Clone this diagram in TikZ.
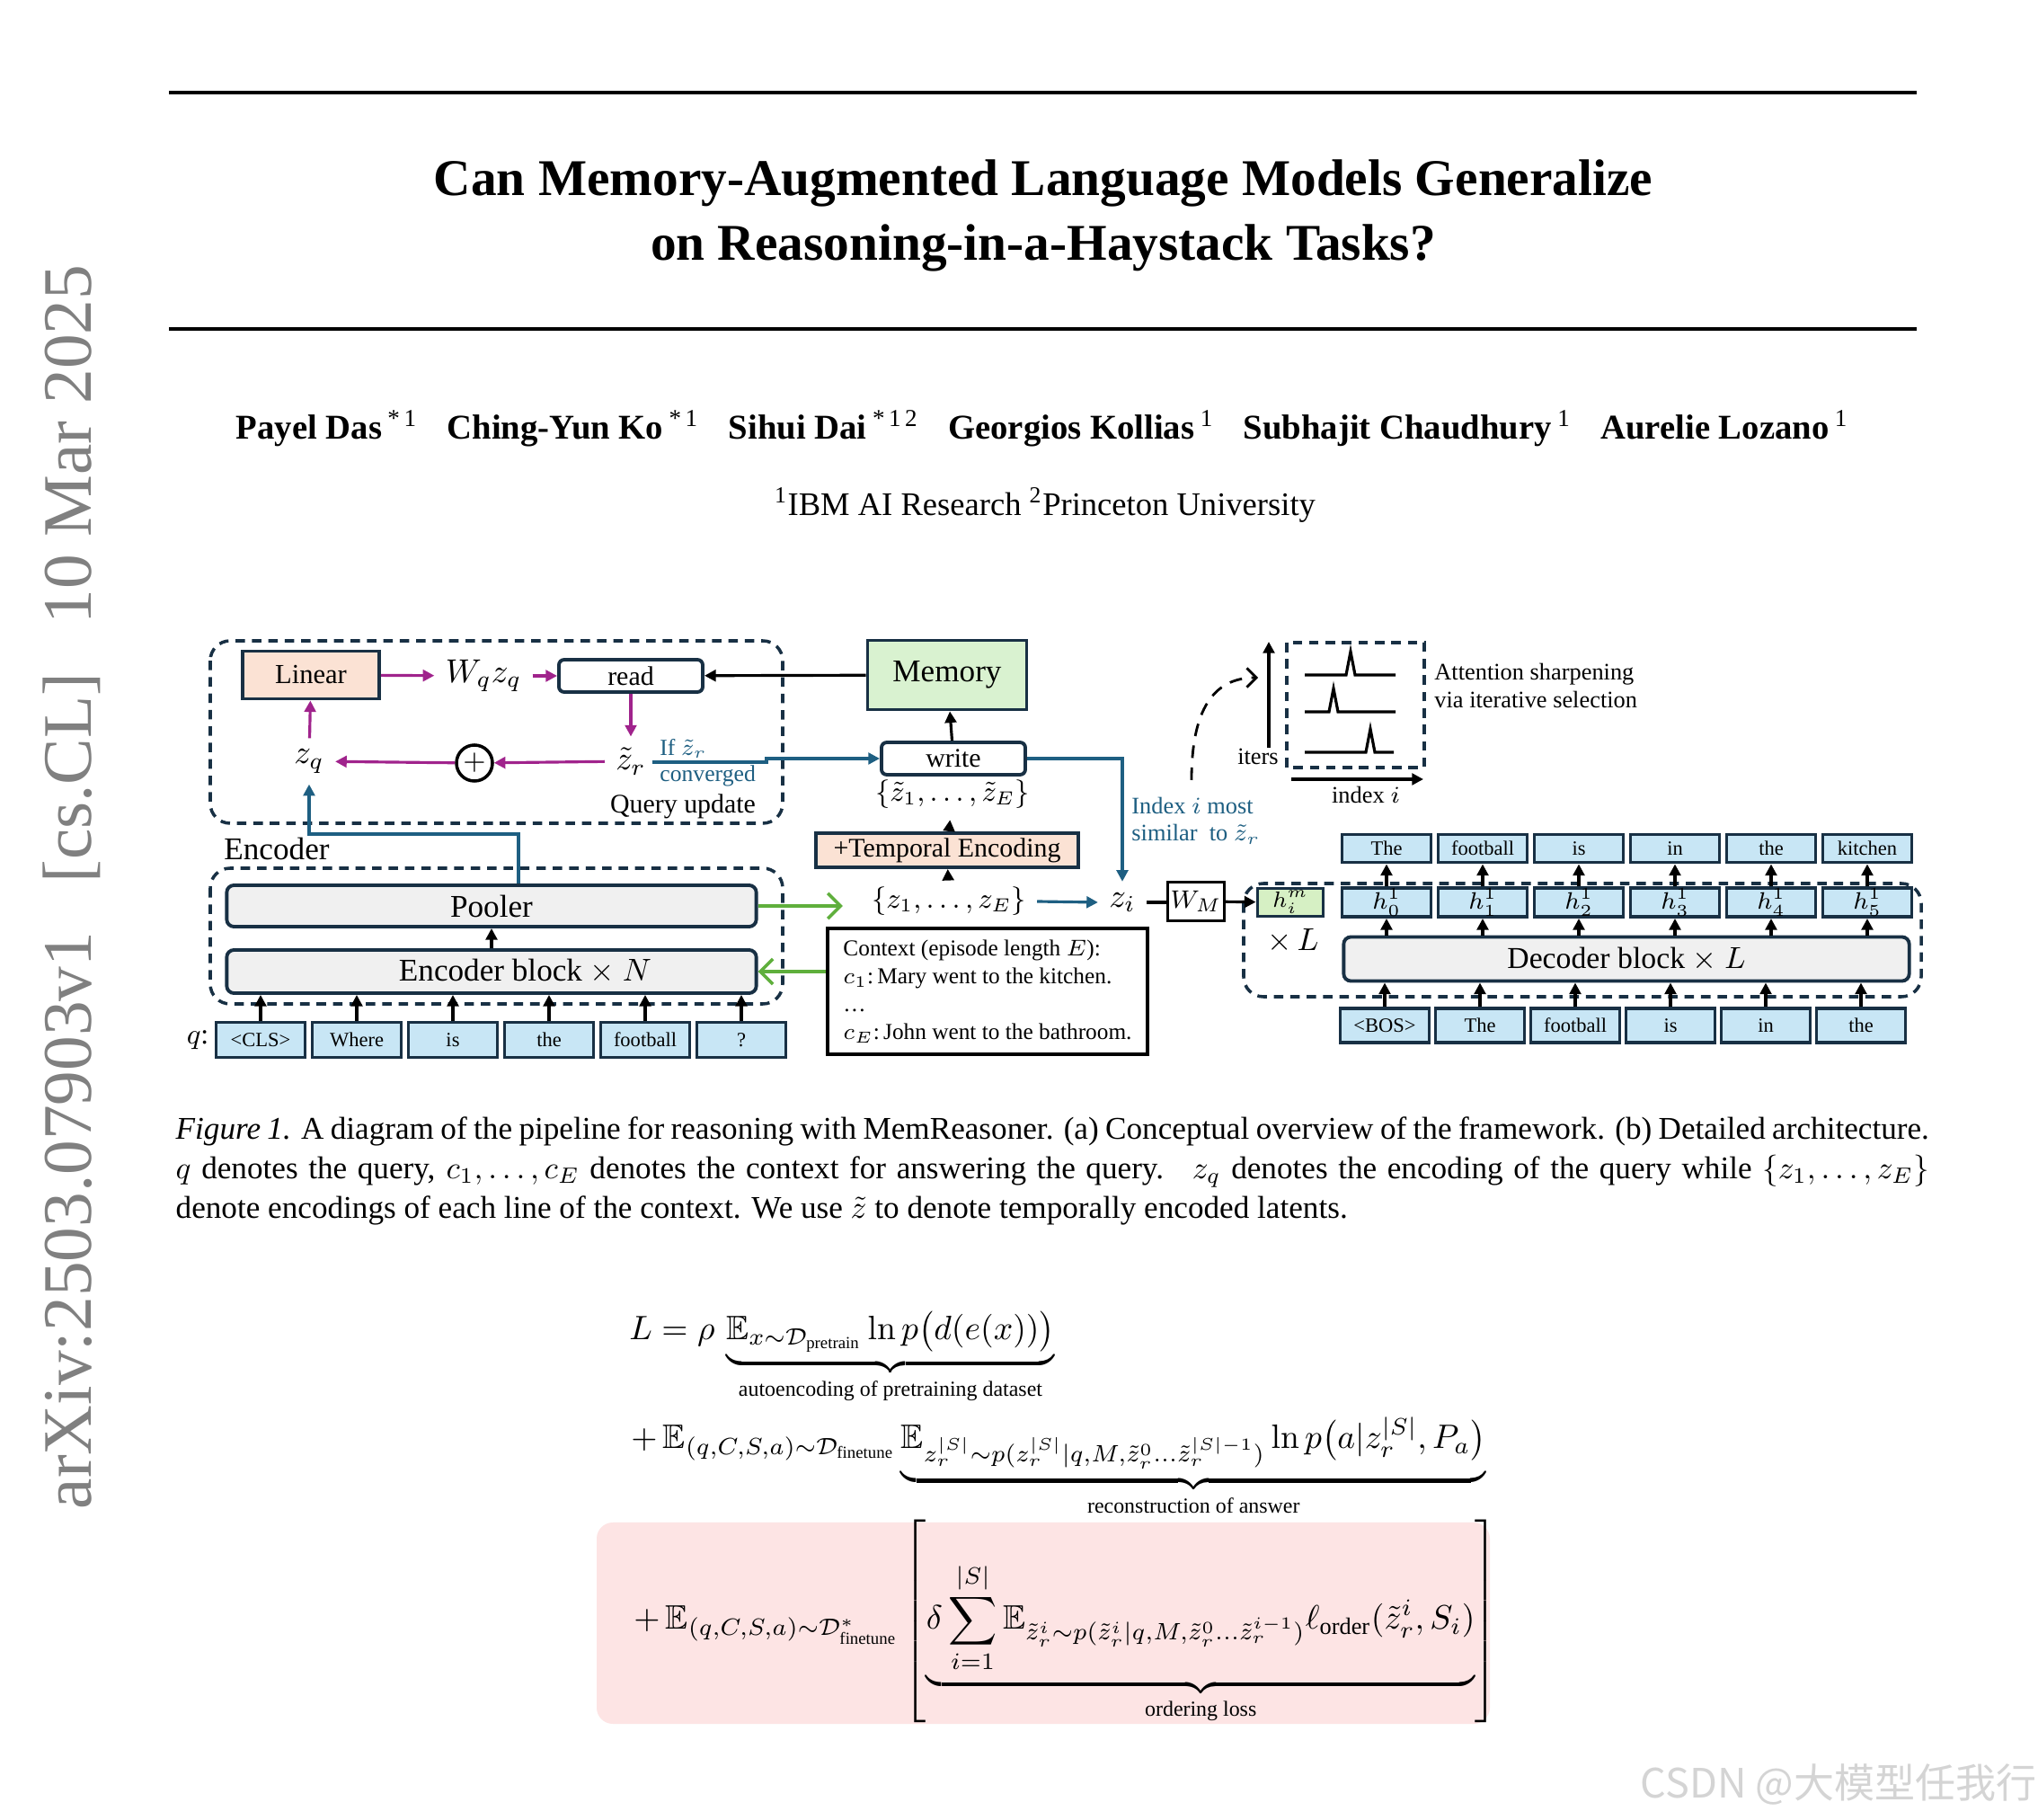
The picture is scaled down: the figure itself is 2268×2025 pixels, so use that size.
\RequirePackage{fix-cm}
\documentclass[tikz,border=0pt]{standalone}
\usepackage{amsmath,amssymb}
\usepackage[no-math]{fontspec}
\setmainfont{Liberation Serif}
\newfontfamily\wmfont{Noto Sans CJK SC}
\usetikzlibrary{arrows.meta,positioning,calc}

\definecolor{navy}{RGB}{24,48,68}
\definecolor{magline}{RGB}{160,35,140}
\definecolor{blueline}{RGB}{30,95,130}
\definecolor{grnline}{RGB}{95,175,60}
\definecolor{tokfill}{RGB}{200,230,245}
\definecolor{peach}{RGB}{251,226,212}
\definecolor{memgreen}{RGB}{217,242,208}
\definecolor{himgreen}{RGB}{214,240,196}
\definecolor{blockgray}{RGB}{240,240,240}
\definecolor{pinkbg}{RGB}{253,228,228}
\definecolor{sidegray}{RGB}{128,128,128}
\definecolor{wmgray}{RGB}{212,212,212}

\newcommand{\fsize}[2]{\fontsize{#1}{#2}\selectfont}
\newcommand{\bracelbl}[1]{\mbox{\fsize{6.8}{8}#1}}

\begin{document}
\begin{tikzpicture}[x=0.01cm, y=-0.01cm,
  >={Triangle[length=3.6pt,width=3.6pt]},
  box/.style={draw=navy, line width=1.1pt, inner sep=0pt, align=center},
  peachbox/.style={box, fill=peach},
  rbox/.style={box, rounded corners=0.06cm, fill=white, minimum width=1.6cm, minimum height=0.36cm, font=\fsize{8.5}{10}},
  grayblk/.style={box, rounded corners=0.08cm, fill=blockgray},
  tok/.style={box, fill=tokfill, minimum width=0.99cm, font=\fsize{6.4}{7.5}},
  dbox/.style={draw=navy, line width=1pt, dash pattern=on 3pt off 2.2pt, rounded corners=0.22cm},
  blk/.style={draw=black, line width=0.9pt},
  mag/.style={draw=magline, line width=0.9pt, ->},
  bl/.style={draw=blueline, line width=0.9pt},
  gr/.style={draw=grnline, line width=1pt, -{Straight Barb[length=4pt,width=8pt]}},
  lbl/.style={font=\fsize{7.5}{8.6}, align=left},
]
\useasboundingbox (0,0) rectangle (2268,2025);
\fill[white] (0,0) rectangle (2268,2025);

% page head
\draw[line width=1.15pt] (188,103) -- (2133,103);
\node[font=\bfseries\fsize{16.3}{20.5}, align=center] (title) at (1161,240)
  {Can Memory-Augmented Language Models Generalize\\on Reasoning-in-a-Haystack Tasks?};
\draw[line width=1.15pt] (188,366) -- (2133,366);
\node[font=\fsize{11}{14}] (authors) at (1160,477)
  {\textbf{Payel Das}\,\textsuperscript{*\,1}\hspace{0.85em}\textbf{Ching-Yun Ko}\,\textsuperscript{*\,1}\hspace{0.85em}%
   \textbf{Sihui Dai}\,\textsuperscript{*\,1\,2}\hspace{0.85em}\textbf{Georgios Kollias}\,\textsuperscript{1}\hspace{0.85em}%
   \textbf{Subhajit Chaudhury}\,\textsuperscript{1}\hspace{0.85em}\textbf{Aurelie Lozano}\,\textsuperscript{1}};
\node[font=\fsize{10.4}{13}] (affil) at (1163,562)
  {\textsuperscript{1}IBM AI Research \textsuperscript{2}Princeton University};
\node[rotate=90, text=sidegray, font=\fsize{22}{26}] (stamp) at (80,987)
  {arXiv:2503.07903v1\hspace{0.7em}[cs.CL]\hspace{0.7em}10 Mar 2025};

% query update loop
\draw[dbox] (234,713) rectangle (871,916);
\node[peachbox, minimum width=1.52cm, minimum height=0.53cm, font=\fsize{8.7}{10}] (linear) at (346,751) {Linear};
\node[font=\fsize{10.5}{12}] (wqzq) at (538,752) {$W_q z_q$};
\node[rbox] (read) at (702,752) {read};
\node[box, fill=memgreen, minimum width=1.77cm, minimum height=0.77cm, font=\fsize{10}{12}] (memory) at (1054,751) {Memory};
\node[font=\fsize{10.5}{12}] (zq) at (344,847) {$z_q$};
\node[draw=black, line width=1pt, circle, minimum size=0.4cm, inner sep=0pt, font=\fsize{9}{10}] (plus) at (528,849) {$+$};
\node[font=\fsize{10.5}{12}] (zr) at (702,847) {$\tilde z_r$};
\node[lbl, anchor=west, text=blueline, font=\fsize{7.3}{8}] (ifzr) at (722,833) {If $\tilde z_r$};
\node[lbl, anchor=west, text=blueline, font=\fsize{7.3}{8}] (conv) at (722,863) {converged};
\node[font=\fsize{8.5}{10}] (qupd) at (760,897) {Query update};
\coordinate (convL) at (726,848);

\draw[mag] (linear) -- (wqzq);
\draw[mag] (wqzq) -- (read);
\draw[mag] (read) -- (zr);
\draw[mag] (zr) -- (plus);
\draw[mag] (plus) -- (zq);
\draw[mag] (zq) -- (linear);
\draw[blk, ->] (memory) -- (read);

% memory write path
\node[rbox] (write) at (1061,844) {write};
\node[font=\fsize{9}{11}] (ztset) at (1060,884) {$\{\tilde z_1,\ldots,\tilde z_E\}$};
\node[peachbox, minimum width=2.92cm, minimum height=0.38cm, font=\fsize{8.5}{10}] (temporal) at (1054,946) {+Temporal Encoding};
\node[font=\fsize{9}{11}] (zset) at (1056,1003) {$\{z_1,\ldots,z_E\}$};
\node[font=\fsize{10.5}{12}] (zi) at (1249,1004) {$z_i$};
\node[lbl, anchor=west, text=blueline] (idx) at (1247,913) {Index $i$ most\\similar\ \ to $\tilde z_r$};
\node[box, draw=black, line width=0.9pt, minimum width=0.63cm, minimum height=0.43cm, font=\fsize{8}{9}] (wmat) at (1331,1003) {$W_M$};

\draw[blk, ->] (write) -- (memory);
\draw[blk, ->] (temporal) -- (ztset);
\draw[blk, ->] (zset) -- (temporal);
\draw[bl, ->] (convL) -- ++(127,0) |- (write.west);
\draw[bl, ->] (write.east) -| (zi.north);
\draw[bl, ->] (zset.east) -- (zi.west);
\draw[blk] (zi.east) -- (zi.east -| wmat.west);

% attention sharpening inset
\coordinate (curveS) at (1326,868);
\coordinate (curveE) at (1400,754);
\draw[blk, line width=0.8pt, dash pattern=on 4pt off 3pt, -{Straight Barb[length=3pt,width=6pt]}]
  (curveS) .. controls (1326,790) and (1350,754) .. (curveE);
\node[lbl] (iters) at (1400,842) {iters};
\coordinate (itersB) at (1412,832);
\draw[blk, ->] (itersB) -- (1412,714);
\draw[draw=navy, line width=1pt, dash pattern=on 3pt off 2.2pt] (1432,715) rectangle (1585,854);
\coordinate (idxL) at (1437,867);
\draw[blk, ->] (idxL) -- (1584,867);
\node[lbl] (idxlbl) at (1520,884) {index $i$};
\draw[blk] (1452,751) -- (1498,751) -- (1503,725) -- (1508,751) -- (1553,751);
\draw[blk] (1452,792) -- (1479,792) -- (1484,766) -- (1489,792) -- (1553,792);
\draw[blk] (1452,837) -- (1520,837) -- (1525,811) -- (1530,837) -- (1551,837);
\node[lbl, anchor=west] (sharp) at (1584,763) {Attention sharpening\\via iterative selection};

% encoder
\node[font=\fsize{10}{12}] (enclabel) at (308,944) {Encoder};
\draw[dbox] (234,966) rectangle (871,1117);
\node[grayblk, minimum width=5.89cm, minimum height=0.46cm, font=\fsize{10}{12}] (pooler) at (547,1008) {Pooler};
\node[grayblk, minimum width=5.89cm, minimum height=0.48cm, font=\fsize{10}{12}] (encblock) at (547,1081) {\hspace*{0.75cm}Encoder block $\times$ $N$};
\draw[blk, ->] (encblock) -- (pooler);
\coordinate (bend) at (344,928);
\draw[bl, ->] ($(pooler.north)+(30,0)$) |- (bend) -- (zq);
\node[font=\fsize{9}{10}] (qlbl) at (220,1157) {$q$:};
\foreach \t [count=\i from 0] in {<CLS>,Where,is,the,football,?} {
  \node[tok, minimum height=0.39cm] (q\i) at (290+107*\i,1157) {\t};
  \draw[blk, ->] (q\i.north) -- (q\i.north |- encblock.south);
}
\draw[gr, shorten >=0.2cm] (pooler.east) -- (pooler.east -| zset.west);

% context
\node[box, draw=black, line width=1pt, minimum width=3.56cm, minimum height=1.40cm, align=left,
      font=\fsize{7.2}{8.8}] (ctx) at (1099,1103)
  {Context (episode length $E$):\\$c_1$:\,Mary went to the kitchen.\\\ldots\\$c_E$:\,John went to the bathroom.};
\draw[gr] (ctx.west |- encblock.east) -- (encblock.east);

% decoder
\draw[dbox] (1384,983) rectangle (2138,1109);
\node[box, fill=himgreen, minimum width=0.73cm, minimum height=0.31cm, font=\fsize{7}{8}] (him) at (1436,1004) {$h_i^m$};
\draw[blk, ->] (wmat) -- (him);
\node[font=\fsize{10}{12}] (timesL) at (1439,1047) {$\times\,L$};
\node[grayblk, minimum width=6.29cm, minimum height=0.49cm, font=\fsize{9.6}{12}] (decblock) at (1810,1067) {Decoder block $\times$ $L$};
\foreach \t [count=\i from 0] in {The,football,is,in,the,kitchen} {
  \node[tok, minimum height=0.31cm] (out\i) at (1543+107*\i,944) {\t};
  \node[tok, minimum height=0.32cm, font=\fsize{7.5}{8}] (h\i) at (1543+107*\i,1004) {$h_{\i}^1$};
  \draw[blk, ->] (h\i) -- (out\i);
  \draw[blk, ->] (h\i.south |- decblock.north) -- (h\i);
}
\foreach \t [count=\i from 0] in {<BOS>,The,football,is,in,the} {
  \node[tok, minimum height=0.38cm] (in\i) at (1541+106*\i,1141) {\t};
  \draw[blk, ->] (in\i.north) -- (in\i.north |- decblock.south);
}

% caption
\node[anchor=north west, text width=19.5cm, align=justify, inner sep=0pt, font=\fsize{10}{12.5}] (caption) at (195,1242)
  {\hyphenpenalty=10000 \textit{Figure 1.} A diagram of the pipeline for reasoning with MemReasoner. (a) Conceptual overview of the framework. (b) Detailed architecture.\linebreak
   $q$ denotes the query, $c_1, \ldots, c_E$ denotes the context for answering the query. \ $z_q$ denotes the encoding of the query while $\{z_1, \ldots, z_E\}$\linebreak
   denote encodings of each line of the context. We use $\tilde z$ to denote temporally encoded latents.};

% objective
\node[anchor=base west, font=\fsize{10.7}{13}] (eqone) at (688,1491)
  {$L=\rho\,\underbrace{\mathbb{E}_{x\sim\mathcal{D}_{\text{pretrain}}}\ln p\bigl(d(e(x))\bigr)}_{\bracelbl{autoencoding of pretraining dataset}}$};
\node[anchor=base west, font=\fsize{10.7}{13}] (eqtwo) at (690,1612)
  {$+\,\mathbb{E}_{(q,C,S,a)\sim\mathcal{D}_{\text{finetune}}}\underbrace{\mathbb{E}_{z_r^{|S|}\sim p(z_r^{|S|}|q,M,\tilde z_r^0\ldots\tilde z_r^{|S|-1})}\ln p\bigl(a|z_r^{|S|},P_a\bigr)}_{\bracelbl{reconstruction of answer}}$};
\fill[pinkbg, rounded corners=0.18cm] (664,1694) rectangle (1658,1918);
\node[anchor=base west, font=\fsize{10.7}{13}] (eqthree) at (693,1813)
  {\delimiterfactor=840 $+\,\mathbb{E}_{(q,C,S,a)\sim\mathcal{D}^*_{\text{finetune}}}\left[\underbrace{\delta\sum_{i=1}^{|S|}\mathbb{E}_{\tilde z_r^i\sim p(\tilde z_r^i|q,M,\tilde z_r^0\ldots\tilde z_r^{i-1})}\ell_{\text{order}}(\tilde z_r^i,S_i)}_{\bracelbl{ordering loss}}\right]$};

\node[text=wmgray, font=\wmfont\fsize{12.8}{15}] (watermark) at (2046,1985) {CSDN @大模型任我行};
\end{tikzpicture}
\end{document}
